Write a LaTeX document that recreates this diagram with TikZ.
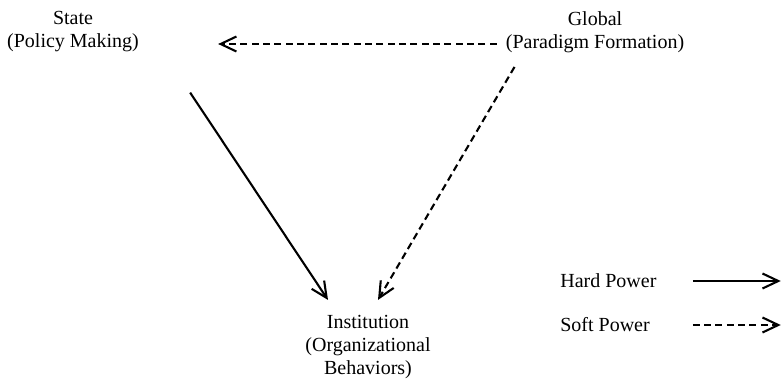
\documentclass[tikz,border=0pt]{standalone}
\usepackage{fontspec}
\setmainfont{Liberation Serif}
\usepackage{tikz}
\usetikzlibrary{arrows.meta,calc}

\begin{document}
\begin{tikzpicture}[x=0.6pt,y=0.6pt,>={Straight Barb[length=9.5pt,width=9pt]},
                    power node/.style={inner sep=0pt,align=center,font=\fontsize{12}{13.8}\selectfont},
                    hard/.style={->,line width=1.25pt},
                    soft/.style={->,line width=1.25pt,dash pattern=on 4.2pt off 2.6pt}]

  \useasboundingbox (0,0) rectangle (783,-389);

  \node[power node] (state) at (73,-32) {State\\(Policy Making)};
  \node[power node] (global) at (595,-32) {Global\\(Paradigm Formation)};
  \node[power node] (inst) at (368,-347) {Institution\\(Organizational\\Behaviors)};

  \node[power node,anchor=west] (hard) at (560,-281) {Hard Power};
  \node[power node,anchor=west] (soft) at (560,-325) {Soft Power};

  % soft and hard influence
  \draw[soft] ($(global.west)+(-9,-12)$) -- ($(state.east)+(79,-12)$);
  \draw[hard] ($(state.south east)+(51,-40)$) -- ($(inst.north)+(-40,15)$);
  \draw[soft] ($(global.south west)+(9,-14)$) -- ($(inst.north)+(10,15)$);

  % legend
  \coordinate (hs) at ($(hard.east)+(36,0)$);
  \draw[hard] (hs) -- ++(88,0);
  \draw[soft] (soft.east -| hs) -- ++(88,0);

\end{tikzpicture}
\end{document}
